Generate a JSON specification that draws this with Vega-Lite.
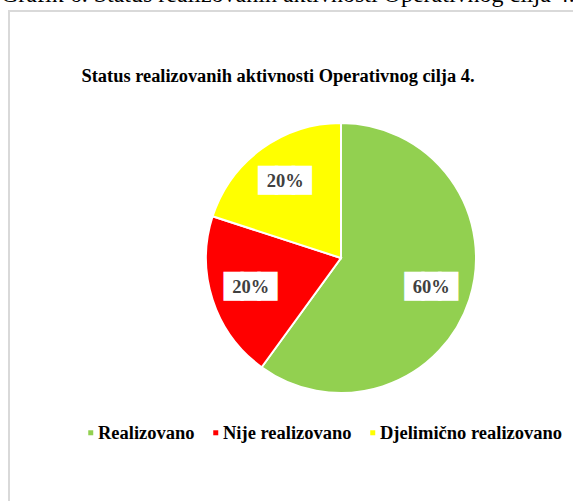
{
  "$schema": "https://vega.github.io/schema/vega-lite/v6.json",
  "width": 664,
  "height": 494,
  "autosize": {"type": "none"},
  "padding": {"left": 9, "top": 11, "right": -100, "bottom": -4},
  "background": "white",
  "view": {"stroke": "#d9d9d9", "strokeWidth": 2},
  "title": {
    "text": "Grafik 6. Status realizovanih aktivnosti Operativnog cilja 4.",
    "anchor": "start",
    "frame": "group",
    "font": "Liberation Serif",
    "fontSize": 24,
    "fontWeight": "normal",
    "color": "black",
    "baseline": "alphabetic",
    "offset": 4,
    "dx": -8,
    "dy": 19
  },
  "data": {
    "values": [
      {"status": "Realizovano", "share": 0.6, "rank": 1},
      {"status": "Nije realizovano", "share": 0.2, "rank": 2},
      {"status": "Djelimično realizovano", "share": 0.2, "rank": 3}
    ]
  },
  "layer": [
    {
      "mark": {"type": "arc", "outerRadius": 135, "stroke": "white", "strokeWidth": 2},
      "encoding": {
        "theta": {"field": "share", "type": "quantitative", "stack": true},
        "order": {"field": "rank", "type": "quantitative"},
        "color": {
          "field": "status",
          "type": "nominal",
          "scale": {
            "domain": ["Realizovano", "Nije realizovano", "Djelimično realizovano"],
            "range": ["#92d050", "#ff0000", "#ffff00"]
          },
          "legend": {
            "orient": "none",
            "legendX": 72.5,
            "legendY": 56,
            "direction": "horizontal",
            "title": "Status realizovanih aktivnosti Operativnog cilja 4.",
            "titleFont": "Liberation Serif",
            "titleFontSize": 18.4,
            "titleFontWeight": "bold",
            "titleColor": "black",
            "titleAnchor": "start",
            "titleLimit": 1000,
            "titlePadding": 338,
            "labelFont": "Liberation Serif",
            "labelFontSize": 18.5,
            "labelFontWeight": "bold",
            "labelColor": "black",
            "labelLimit": 400,
            "symbolType": "square",
            "symbolSize": 25,
            "symbolStrokeWidth": 0,
            "labelOffset": -2,
            "columnPadding": 11,
            "padding": 0
          }
        }
      }
    },
    {
      "mark": {
        "type": "text",
        "radius": 95,
        "text": "███",
        "font": "DejaVu Sans",
        "fontSize": 22,
        "fill": "white",
        "stroke": "white",
        "strokeWidth": 3,
        "strokeJoin": "miter",
        "baseline": "middle",
        "align": "center"
      },
      "encoding": {
        "theta": {"field": "share", "type": "quantitative", "stack": true},
        "order": {"field": "rank", "type": "quantitative"}
      }
    },
    {
      "mark": {
        "type": "text",
        "radius": 95,
        "font": "Liberation Serif",
        "fontWeight": "bold",
        "fontSize": 18.5,
        "color": "#404040",
        "baseline": "middle",
        "align": "center"
      },
      "encoding": {
        "theta": {"field": "share", "type": "quantitative", "stack": true},
        "order": {"field": "rank", "type": "quantitative"},
        "text": {"field": "share", "type": "quantitative", "format": ".0%"}
      }
    }
  ]
}
